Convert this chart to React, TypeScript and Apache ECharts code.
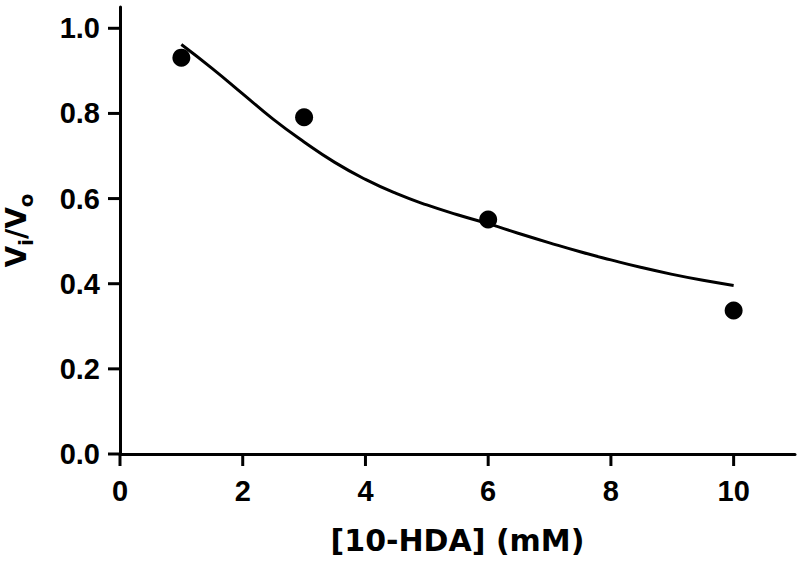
import React, { useEffect, useRef } from "react";
import * as echarts from "echarts";

const pointX = [1, 3, 6, 10];
const pointY = [0.931, 0.791, 0.551, 0.337];

const curveX = [1.0, 1.5, 2.0, 2.5, 3.0, 3.5, 4.0, 4.5, 5.0, 5.5, 6.0, 6.5, 7.0, 7.5, 8.0, 8.5, 9.0, 9.5, 10.0];
const curveY = [0.962, 0.906, 0.846, 0.786, 0.733, 0.685, 0.645, 0.612, 0.585, 0.562, 0.541, 0.518, 0.496, 0.475, 0.456, 0.438, 0.422, 0.408, 0.396];

const xTicks = [0, 2, 4, 6, 8, 10];
const yTicks = [0, 0.2, 0.4, 0.6, 0.8, 1.0];

const FONT = "'Liberation Sans', Arial, sans-serif";
const TITLE_FONT = "'DejaVu Sans', 'Liberation Sans', sans-serif";

const makeLine = () => ({ show: true, onZero: false, lineStyle: { color: "#000", width: 3 } });

export default function App() {
  const ref = useRef<HTMLDivElement>(null);
  useEffect(() => {
    if (!ref.current) return;
    const chart = echarts.init(ref.current, undefined, { renderer: "svg" });
    chart.setOption({
      animation: false,
      backgroundColor: "#fff",
      grid: { left: 120, right: 5, top: 7, bottom: 115, containLabel: false, outerBoundsMode: "none" },
      xAxis: {
        type: "value",
        min: 0,
        max: 11,
        interval: 2,
        axisLine: makeLine(),
        axisTick: { show: false },
        splitLine: { show: false },
        axisLabel: {
          margin: 22,
          color: "#000",
          fontSize: 29,
          fontWeight: "bold",
          fontFamily: FONT,
          formatter: (v: number) => (xTicks.includes(v) ? String(v) : ""),
        },
        name: "[10-HDA] (mM)",
        nameLocation: "middle",
        nameGap: 71,
        nameTextStyle: { color: "#000", fontSize: 30, fontWeight: "bold", fontFamily: TITLE_FONT },
      },
      yAxis: {
        type: "value",
        min: 0,
        max: 1.05,
        interval: 0.2,
        axisLine: makeLine(),
        axisTick: { show: false },
        splitLine: { show: false },
        axisLabel: {
          margin: 20,
          color: "#000",
          fontSize: 29,
          fontWeight: "bold",
          fontFamily: FONT,
          formatter: (v: number) => {
            const hit = yTicks.find((t) => Math.abs(t - v) < 1e-6);
            return hit === undefined ? "" : hit.toFixed(1);
          },
        },
        name: "{v|V}{s|i}{v|/V}{s|o}",
        nameLocation: "middle",
        nameRotate: 90,
        nameGap: 84,
        nameTextStyle: {
          color: "#000",
          rich: {
            v: { fontSize: 28, fontWeight: "bold", fontFamily: TITLE_FONT, color: "#000", lineHeight: 40, verticalAlign: "middle" },
            s: { fontSize: 20, fontWeight: "bold", fontFamily: TITLE_FONT, color: "#000", lineHeight: 17, verticalAlign: "bottom" },
          },
        },
      },
      series: [
        {
          type: "line",
          data: curveX.map((x, i) => [x, curveY[i]]),
          smooth: true,
          showSymbol: false,
          symbol: "none",
          lineStyle: { color: "#000", width: 3 },
          z: 2,
        },
        {
          type: "scatter",
          data: pointX.map((x, i) => [x, pointY[i]]),
          symbol: "circle",
          symbolSize: 18,
          itemStyle: { color: "#000", opacity: 1 },
          z: 3,
        },
        {
          type: "scatter",
          name: "xTicks",
          data: xTicks.map((t) => [t, 0]),
          symbol: "rect",
          symbolSize: [3, 12],
          symbolOffset: [0, 6],
          clip: false,
          silent: true,
          itemStyle: { color: "#000", opacity: 1 },
          z: 4,
        },
        {
          type: "scatter",
          name: "yTicks",
          data: yTicks.map((t) => [0, t]),
          symbol: "rect",
          symbolSize: [12, 3],
          symbolOffset: [-6, 0],
          clip: false,
          silent: true,
          itemStyle: { color: "#000", opacity: 1 },
          z: 4,
        },
      ],
    });
    return () => chart.dispose();
  }, []);
  return (
    <div
      ref={ref}
      style={{ position: "absolute", left: 0, top: 0, width: 800, height: 569 }}
    />
  );
}
